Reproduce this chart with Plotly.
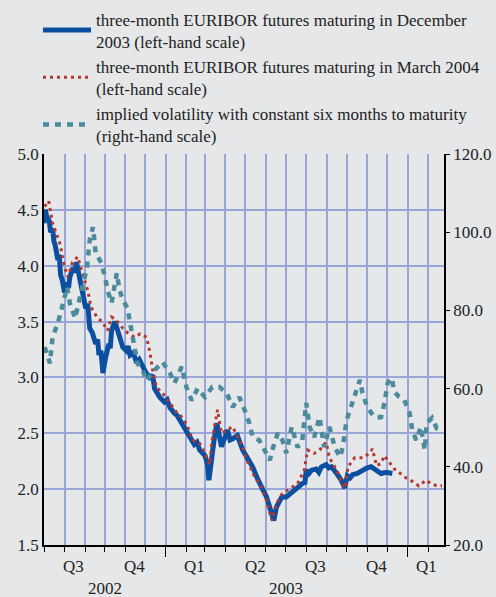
import plotly.graph_objects as go

# three-month EURIBOR futures maturing in December 2003 (left-hand scale)
dec03_dates = ["2002-07-01", "2002-07-03", "2002-07-05", "2002-07-09", "2002-07-11", "2002-07-14",
               "2002-07-16", "2002-07-18", "2002-07-22", "2002-07-24", "2002-07-26", "2002-07-29",
               "2002-08-01", "2002-08-05", "2002-08-07", "2002-08-09", "2002-08-14", "2002-08-16",
               "2002-08-19", "2002-08-23", "2002-08-26", "2002-08-28", "2002-09-02", "2002-09-05",
               "2002-09-08", "2002-09-12", "2002-09-17", "2002-09-20", "2002-09-22", "2002-09-25",
               "2002-09-28", "2002-10-02", "2002-10-07", "2002-10-09", "2002-10-11", "2002-10-16",
               "2002-10-22", "2002-10-25", "2002-10-28", "2002-11-02", "2002-11-05", "2002-11-08",
               "2002-11-13", "2002-11-18", "2002-11-22", "2002-11-27", "2002-12-02", "2002-12-08",
               "2002-12-12", "2002-12-15", "2002-12-19", "2002-12-23", "2002-12-30", "2003-01-03",
               "2003-01-07", "2003-01-10", "2003-01-14", "2003-01-18", "2003-01-22", "2003-01-29",
               "2003-02-03", "2003-02-06", "2003-02-13", "2003-02-17", "2003-02-21", "2003-03-01",
               "2003-03-05", "2003-03-07", "2003-03-11", "2003-03-15", "2003-03-19", "2003-03-22",
               "2003-03-26", "2003-03-31", "2003-04-04", "2003-04-08", "2003-04-12", "2003-04-19",
               "2003-04-23", "2003-04-27", "2003-05-04", "2003-05-08", "2003-05-12", "2003-05-19",
               "2003-05-23", "2003-05-27", "2003-06-02", "2003-06-06", "2003-06-10", "2003-06-13",
               "2003-06-17", "2003-06-21", "2003-06-25", "2003-07-02", "2003-07-06", "2003-07-10",
               "2003-07-15", "2003-07-19", "2003-07-26", "2003-07-30", "2003-08-01", "2003-08-05",
               "2003-08-09", "2003-08-16", "2003-08-20", "2003-08-24", "2003-08-31", "2003-09-04",
               "2003-09-08", "2003-09-16", "2003-09-23", "2003-09-28", "2003-10-02", "2003-10-06",
               "2003-10-10", "2003-10-17", "2003-10-25", "2003-11-01", "2003-11-07", "2003-11-15",
               "2003-11-22", "2003-11-30", "2003-12-09"]
dec03_values = [4.38, 4.50, 4.44, 4.40, 4.30, 4.33,
                4.22, 4.18, 4.05, 4.10, 3.92, 3.86,
                3.76, 3.85, 3.80, 3.90, 3.98, 3.94,
                4.03, 3.92, 3.82, 3.75, 3.62, 3.66,
                3.44, 3.40, 3.30, 3.34, 3.20, 3.24,
                3.04, 3.18, 3.30, 3.26, 3.42, 3.50,
                3.38, 3.32, 3.27, 3.24, 3.28, 3.20,
                3.22, 3.13, 3.16, 3.10, 3.04, 3.00,
                3.02, 2.90, 2.86, 2.82, 2.78, 2.80,
                2.73, 2.70, 2.68, 2.66, 2.62, 2.55,
                2.50, 2.47, 2.40, 2.42, 2.35, 2.30,
                2.22, 2.08, 2.30, 2.45, 2.59, 2.50,
                2.38, 2.46, 2.53, 2.44, 2.45, 2.48,
                2.40, 2.35, 2.28, 2.24, 2.20, 2.10,
                2.06, 2.00, 1.93, 1.86, 1.78, 1.72,
                1.84, 1.88, 1.93, 1.93, 1.95, 1.97,
                1.99, 2.02, 2.05, 2.06, 2.17, 2.14,
                2.17, 2.18, 2.15, 2.20, 2.22, 2.19,
                2.20, 2.14, 2.08, 2.01, 2.12, 2.10,
                2.13, 2.14, 2.17, 2.19, 2.20, 2.17,
                2.14, 2.15, 2.14]

# three-month EURIBOR futures maturing in March 2004 (left-hand scale)
mar04_dates = ["2002-07-02", "2002-07-08", "2002-07-14", "2002-07-20", "2002-07-25", "2002-08-01",
               "2002-08-06", "2002-08-13", "2002-08-21", "2002-08-28", "2002-09-05", "2002-09-10",
               "2002-09-19", "2002-09-28", "2002-10-05", "2002-10-11", "2002-10-17", "2002-10-28",
               "2002-11-04", "2002-11-15", "2002-11-23", "2002-12-03", "2002-12-08", "2002-12-12",
               "2002-12-18", "2002-12-27", "2003-01-07", "2003-01-17", "2003-01-26", "2003-02-03",
               "2003-02-10", "2003-02-21", "2003-03-01", "2003-03-08", "2003-03-12", "2003-03-20",
               "2003-03-26", "2003-04-03", "2003-04-12", "2003-04-19", "2003-04-27", "2003-05-04",
               "2003-05-15", "2003-05-25", "2003-06-02", "2003-06-10", "2003-06-17", "2003-06-26",
               "2003-07-11", "2003-07-19", "2003-07-29", "2003-08-03", "2003-08-13", "2003-08-21",
               "2003-08-31", "2003-09-05", "2003-09-16", "2003-09-25", "2003-09-29", "2003-10-03",
               "2003-10-13", "2003-10-25", "2003-11-04", "2003-11-09", "2003-11-15", "2003-11-22",
               "2003-11-27", "2003-12-04", "2003-12-12", "2003-12-19", "2003-12-27", "2004-01-08",
               "2004-01-18", "2004-01-29", "2004-02-05", "2004-02-14", "2004-02-22"]
mar04_values = [4.53, 4.58, 4.38, 4.28, 4.20, 3.99,
                3.90, 4.03, 4.08, 3.93, 3.78, 3.63,
                3.54, 3.49, 3.42, 3.54, 3.52, 3.44,
                3.40, 3.36, 3.39, 3.36, 3.22, 3.07,
                2.91, 2.86, 2.77, 2.69, 2.64, 2.56,
                2.44, 2.41, 2.32, 2.22, 2.44, 2.71,
                2.50, 2.53, 2.56, 2.47, 2.38, 2.25,
                2.11, 2.02, 1.90, 1.72, 1.87, 1.96,
                2.02, 2.05, 2.17, 2.35, 2.32, 2.35,
                2.42, 2.28, 2.17, 2.04, 2.01, 2.20,
                2.28, 2.28, 2.32, 2.36, 2.21, 2.23,
                2.30, 2.24, 2.18, 2.15, 2.11, 2.07,
                2.03, 2.08, 2.05, 2.03, 2.03]

# implied volatility with constant six months to maturity (right-hand scale)
vol_dates = ["2002-07-02", "2002-07-10", "2002-07-14", "2002-07-22", "2002-07-30", "2002-08-05",
             "2002-08-09", "2002-08-17", "2002-08-28", "2002-09-04", "2002-09-08", "2002-09-13",
             "2002-09-17", "2002-09-26", "2002-10-01", "2002-10-05", "2002-10-11", "2002-10-19",
             "2002-10-23", "2002-10-28", "2002-11-04", "2002-11-12", "2002-11-19", "2002-11-27",
             "2002-12-03", "2002-12-11", "2002-12-27", "2003-01-07", "2003-01-14", "2003-01-25",
             "2003-02-01", "2003-02-09", "2003-02-18", "2003-03-01", "2003-03-12", "2003-03-23",
             "2003-04-03", "2003-04-12", "2003-04-22", "2003-04-30", "2003-05-07", "2003-05-12",
             "2003-05-22", "2003-05-30", "2003-06-07", "2003-06-12", "2003-06-19", "2003-06-26",
             "2003-07-02", "2003-07-10", "2003-07-14", "2003-07-19", "2003-07-26", "2003-08-01",
             "2003-08-06", "2003-08-13", "2003-08-21", "2003-08-28", "2003-09-05", "2003-09-13",
             "2003-09-21", "2003-09-25", "2003-10-01", "2003-10-10", "2003-10-17", "2003-10-21",
             "2003-10-25", "2003-10-31", "2003-11-07", "2003-11-15", "2003-11-22", "2003-11-27",
             "2003-12-02", "2003-12-08", "2003-12-12", "2003-12-19", "2003-12-27", "2004-01-04",
             "2004-01-08", "2004-01-14", "2004-01-21", "2004-01-27", "2004-01-30", "2004-02-07",
             "2004-02-14", "2004-02-22"]
vol_values = [70.6, 66.5, 73.2, 76.8, 81.9, 86.0,
              81.9, 78.0, 86.0, 91.0, 98.0, 101.3,
              94.7, 92.0, 88.6, 85.2, 81.9, 89.5,
              85.2, 82.7, 80.6, 72.4, 66.5, 64.7,
              62.0, 64.0, 66.8, 64.0, 61.4, 65.6,
              60.4, 57.0, 60.0, 57.8, 60.4, 60.4,
              58.8, 55.3, 57.8, 54.5, 51.2, 47.6,
              46.8, 44.3, 41.7, 45.0, 48.6, 46.8,
              43.5, 50.2, 47.6, 45.0, 46.8, 56.3,
              50.2, 47.6, 52.7, 45.0, 50.2, 45.0,
              42.5, 45.0, 52.0, 56.3, 60.4, 62.2,
              58.9, 55.8, 53.8, 52.5, 52.7, 56.3,
              61.4, 62.7, 59.2, 57.9, 57.1, 53.8,
              49.5, 46.8, 50.2, 44.3, 51.2, 52.5,
              49.9, 50.2]

quarter_labels = ["Q3", "Q4", "Q1", "Q2", "Q3", "Q4", "Q1"]
quarter_pos = ["2002-08-15", "2002-11-15", "2003-02-14", "2003-05-16", "2003-08-15", "2003-11-15", "2004-01-29"]
year_labels = ["2002", "2003"]
year_pos = ["2002-10-01", "2003-07-02"]

BG = "#e6e7e9"
GRID = "#9aa5d8"
FONT = "Liberation Serif, Times New Roman, serif"

fig = go.Figure()
fig.add_trace(go.Scatter(
    x=dec03_dates, y=dec03_values, mode="lines",
    name="three-month EURIBOR futures maturing in December<br>2003 (left-hand scale)",
    line=dict(color="#0b4fa0", width=5)))
fig.add_trace(go.Scatter(
    x=mar04_dates, y=mar04_values, mode="lines",
    name="three-month EURIBOR futures maturing in March 2004<br>(left-hand scale)",
    line=dict(color="#b5382e", width=3, dash="3px,4px")))
fig.add_trace(go.Scatter(
    x=vol_dates, y=vol_values, mode="lines", yaxis="y2",
    name="implied volatility with constant six months to maturity<br>(right-hand scale)",
    line=dict(color="#4b8b9b", width=4.5, dash="6px,6px")))

for lab, pos in zip(quarter_labels, quarter_pos):
    fig.add_annotation(x=pos, y=-0.056, xref="x", yref="paper", text=lab, showarrow=False,
                       font=dict(family=FONT, size=17, color="#222"), yanchor="middle")
for lab, pos in zip(year_labels, year_pos):
    fig.add_annotation(x=pos, y=-0.11, xref="x", yref="paper", text=lab, showarrow=False,
                       font=dict(family=FONT, size=17, color="#222"), yanchor="middle")

fig.update_layout(
    width=496, height=597,
    paper_bgcolor=BG, plot_bgcolor=BG,
    margin=dict(l=44, r=52, t=154, b=52, autoexpand=False),
    font=dict(family=FONT, size=17, color="#222"),
    showlegend=True,
    legend=dict(x=-0.015, y=1.39, xanchor="left", yanchor="top",
                bgcolor="rgba(0,0,0,0)", font=dict(family=FONT, size=17), itemwidth=48),
    xaxis=dict(
        type="date", range=["2002-07-01", "2004-02-25"], automargin=False,
        showticklabels=False, showline=True, linecolor="black", linewidth=1.5,
        tick0="2002-01-01", dtick="M12", ticks="outside", ticklen=10, tickcolor="black",
        showgrid=True, gridcolor=GRID, gridwidth=1.5,
        minor=dict(dtick="M1", tick0="2002-07-01", ticks="outside", ticklen=5,
                   tickcolor="black", showgrid=True, gridcolor=GRID, gridwidth=1.5),
        zeroline=False),
    yaxis=dict(
        range=[1.5, 5.0], dtick=0.5, tickformat=".1f", automargin=False,
        showline=True, linecolor="black", linewidth=1.5, ticks="",
        showgrid=True, gridcolor=GRID, gridwidth=1.5, zeroline=False),
    yaxis2=dict(
        range=[20, 120], dtick=20, tickformat=".1f", overlaying="y", side="right",
        automargin=False,
        showline=True, linecolor="black", linewidth=1.5, ticks="outside", ticklen=4,
        tickcolor="black", showgrid=False, zeroline=False),
)

# the page body has a default 8px margin; drop it so the figure fills the window
fig.write_html("out.html", config={"displayModeBar": False},
               post_script="document.body.style.margin='0';")
